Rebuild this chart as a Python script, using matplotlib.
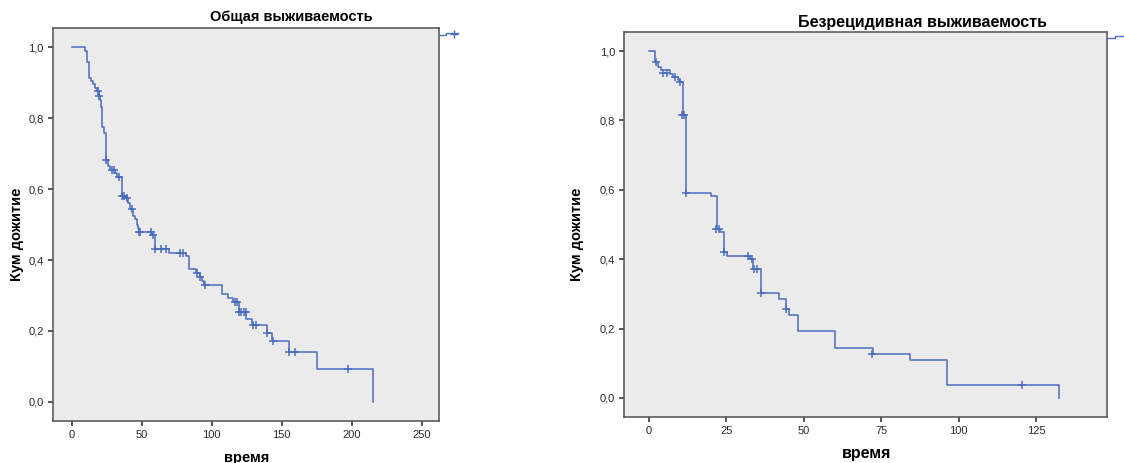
import matplotlib.pyplot as plt
from matplotlib.lines import Line2D

plt.rcParams['font.family'] = ['Liberation Sans', 'DejaVu Sans']

# Overall survival (left panel): event times / cumulative survival (step, post)
os_time = [0, 9.5, 11.2, 12.1, 13.6, 15.5, 16.7, 17.9, 19.3, 20.2, 21.2, 21.7,
           23.1, 24.3, 26.2, 27.4, 31.2, 32.6, 36.0, 38.1, 40.2, 41.7, 44.0,
           45.2, 46.4, 47.4, 48.1, 57.4, 59.8, 69.3, 81.5, 83.8, 88.8, 91.7,
           92.9, 94.5, 107.4, 111.9, 115.5, 119.3, 124.5, 128.6, 139.3, 142.9,
           155.2, 175.0, 215.0]
os_surv = [1.0, 0.99, 0.959, 0.912, 0.905, 0.895, 0.885, 0.875, 0.863, 0.85,
           0.83, 0.776, 0.757, 0.682, 0.665, 0.655, 0.645, 0.635, 0.58, 0.575,
           0.56, 0.545, 0.525, 0.515, 0.50, 0.49, 0.48, 0.47, 0.432, 0.42,
           0.41, 0.375, 0.364, 0.352, 0.34, 0.329, 0.305, 0.293, 0.282, 0.254,
           0.235, 0.216, 0.195, 0.171, 0.141, 0.094, 0.0]
os_cens_t = [18.6, 19.8, 24.5, 28.6, 30.2, 34.0, 36.2, 37.4, 39.3, 42.9, 48.3,
             49.0, 56.7, 57.9, 59.8, 64.0, 67.1, 77.4, 79.3, 89.8, 91.9, 95.2,
             116.9, 118.3, 119.5, 121.2, 122.9, 124.3, 129.8, 131.4, 139.5,
             143.6, 155.5, 159.3, 197.1]
os_cens_s = [0.875, 0.863, 0.682, 0.655, 0.655, 0.635, 0.58, 0.58, 0.575, 0.545,
             0.48, 0.48, 0.48, 0.47, 0.432, 0.432, 0.432, 0.42, 0.42, 0.364,
             0.352, 0.329, 0.282, 0.282, 0.254, 0.254, 0.254, 0.254, 0.216,
             0.216, 0.195, 0.171, 0.141, 0.141, 0.094]

# Relapse-free survival (right panel)
rfs_time = [0, 2.0, 3.0, 3.9, 6.8, 7.6, 9.2, 10.0, 11.1, 11.8, 19.9, 22.1, 23.0,
            24.2, 25.3, 32.6, 33.7, 36.0, 42.1, 44.1, 45.1, 48.1, 60.1, 72.2,
            84.3, 96.2, 132.4]
rfs_surv = [1.0, 0.967, 0.955, 0.945, 0.933, 0.926, 0.916, 0.91, 0.816, 0.592,
            0.583, 0.488, 0.478, 0.42, 0.41, 0.399, 0.373, 0.301, 0.286, 0.257,
            0.24, 0.192, 0.143, 0.127, 0.11, 0.036, 0.0]
rfs_cens_t = [2.2, 4.6, 5.7, 8.4, 10.0, 10.6, 11.4, 11.9, 21.5, 22.5, 24.3, 31.8,
              33.1, 33.8, 35.0, 36.0, 44.1, 72.0, 120.3]
rfs_cens_s = [0.967, 0.937, 0.937, 0.926, 0.91, 0.816, 0.816, 0.592, 0.488,
              0.488, 0.42, 0.41, 0.399, 0.373, 0.373, 0.301, 0.257, 0.127, 0.036]

titles = ['Общая выживаемость', 'Безрецидивная выживаемость']
y_ticks = [0.0, 0.2, 0.4, 0.6, 0.8, 1.0]
y_ticklabels = ['0,0', '0,2', '0,4', '0,6', '0,8', '1,0']
os_xticks = [0, 50, 100, 150, 200, 250]
rfs_xticks = [0, 25, 50, 75, 100, 125]

line_color = '#4a6cbf'
W, H = 1124, 463

fig = plt.figure(figsize=(W / 100, H / 100), dpi=100)
fig.patch.set_facecolor('white')

ax1 = fig.add_axes([52.7 / W, 1 - 420.7 / H, (439.3 - 52.7) / W, (420.7 - 28) / H])
ax2 = fig.add_axes([624.3 / W, 1 - 417.3 / H, (1107.3 - 624.3) / W, (417.3 - 32.3) / H])

panels = [
    (ax1, os_time, os_surv, os_cens_t, os_cens_s, os_xticks, (-13.6, 262.6), (-0.053, 1.054)),
    (ax2, rfs_time, rfs_surv, rfs_cens_t, rfs_cens_s, rfs_xticks, (-8.0, 148.0), (-0.056, 1.054)),
]

for ax, t, s, ct, cs, xt, xl, yl in panels:
    ax.set_facecolor('#ebebeb')
    ax.step(t, s, where='post', color=line_color, lw=1.1)
    ax.plot(ct, cs, '+', color=line_color, ms=6, mew=1.1)
    ax.set_xlim(*xl)
    ax.set_ylim(*yl)
    ax.set_xticks(xt)
    ax.set_yticks(y_ticks)
    ax.set_yticklabels(y_ticklabels)
    ax.tick_params(direction='out', length=3.5, width=1.1, colors='#2a2a2a',
                   labelsize=8, pad=3)
    for sp in ax.spines.values():
        sp.set_color('#505050')
        sp.set_linewidth(1.1)

# titles, axis labels
fig.text(291.7 / W, 1 - 17.3 / H, titles[0], ha='center', va='center',
         fontsize=10.5, fontweight='bold')
fig.text(922.7 / W, 1 - 22.7 / H, titles[1], ha='center', va='center',
         fontsize=11.5, fontweight='bold')
fig.text(246.7 / W, 1 - 457.7 / H, 'время', ha='center', va='center',
         fontsize=10.5, fontweight='bold')
fig.text(866.7 / W, 1 - 453.3 / H, 'время', ha='center', va='center',
         fontsize=11.5, fontweight='bold')
fig.text(16.7 / W, 1 - 234 / H, 'Кум дожитие', ha='center', va='center',
         rotation=90, fontsize=10.5, fontweight='bold')
fig.text(577 / W, 1 - 234 / H, 'Кум дожитие', ha='center', va='center',
         rotation=90, fontsize=10.5, fontweight='bold')

# clipped legend swatches to the right of each frame
fig.add_artist(Line2D([x / W for x in [440, 446, 446, 458]],
                      [1 - y / H for y in [35, 35, 32.5, 32.5]],
                      color=line_color, lw=1.0, transform=fig.transFigure))
fig.add_artist(Line2D([454 / W], [1 - 33.5 / H], marker='+', ms=6, mew=1,
                      color=line_color, transform=fig.transFigure))
fig.add_artist(Line2D([x / W for x in [1108, 1115, 1115, 1124]],
                      [1 - y / H for y in [38, 38, 35.5, 35.5]],
                      color=line_color, lw=1.0, transform=fig.transFigure))

fig.savefig('out.png', dpi=100)
